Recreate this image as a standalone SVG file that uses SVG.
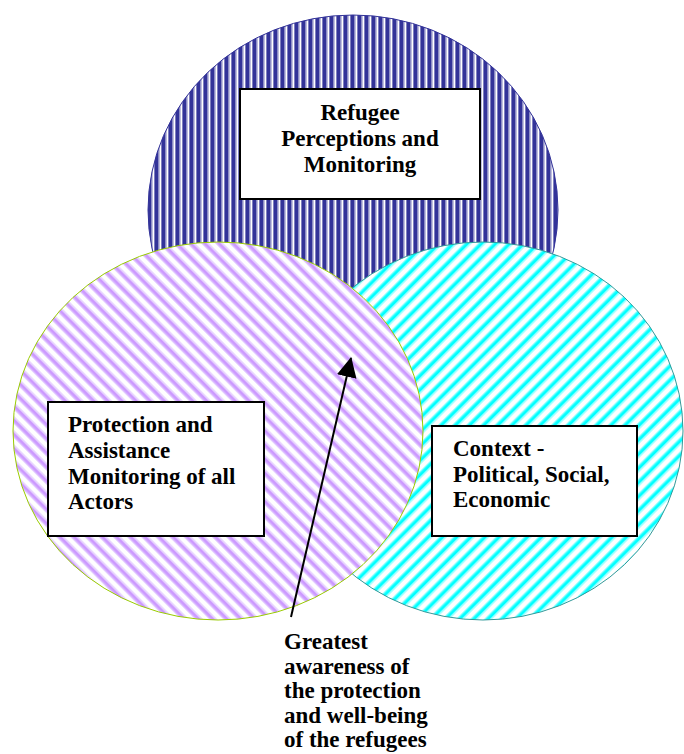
<svg xmlns="http://www.w3.org/2000/svg" width="684" height="754" viewBox="0 0 684 754">
<defs>
<pattern id="pNavy" patternUnits="userSpaceOnUse" width="7" height="7">
<rect width="7" height="7" fill="#ffffff"/>
<rect x="0" y="0" width="1" height="7" fill="#7f7fbf"/>
<rect x="1" y="0" width="3.5" height="7" fill="#333399"/>
<rect x="4.5" y="0" width="1" height="7" fill="#7f7fbf"/>
</pattern>
<pattern id="pPurple" patternUnits="userSpaceOnUse" width="10" height="10" patternTransform="rotate(-45)">
<rect width="10" height="10" fill="#ffffff"/>
<rect x="0" y="0" width="1.2" height="10" fill="#e3ccff"/>
<rect x="1.2" y="0" width="3.3" height="10" fill="#cc99ff"/>
<rect x="4.5" y="0" width="1.2" height="10" fill="#e3ccff"/>
</pattern>
<pattern id="pCyan" patternUnits="userSpaceOnUse" width="10" height="10" patternTransform="rotate(45)">
<rect width="10" height="10" fill="#ffffff"/>
<rect x="0" y="0" width="1.2" height="10" fill="#99ffff"/>
<rect x="1.2" y="0" width="3.3" height="10" fill="#00ffff"/>
<rect x="4.5" y="0" width="1.2" height="10" fill="#99ffff"/>
</pattern>
<marker id="arrow" viewBox="0 0 20 20" refX="19" refY="10" markerWidth="20" markerHeight="20" markerUnits="userSpaceOnUse" orient="auto">
<path d="M0,0 L20,10 L0,20 Z" fill="#000000"/>
</marker>
</defs>
<style>
.box{fill:#ffffff;stroke:#000000;stroke-width:2}
.lbl{font-family:"Liberation Serif","Times New Roman",serif;font-weight:bold;font-size:23px;fill:#000000}
.mid{text-anchor:middle}
</style>
<g id="circle-refugee">
<ellipse cx="353" cy="210" rx="205" ry="195" fill="url(#pNavy)" stroke="#333399" stroke-width="1"/>
</g>
<g id="circle-context">
<ellipse cx="483" cy="431" rx="200" ry="189" fill="url(#pCyan)" stroke="#339999" stroke-width="1"/>
</g>
<g id="circle-protection">
<ellipse cx="218" cy="431" rx="205" ry="189" fill="url(#pPurple)" stroke="#99cc00" stroke-width="1"/>
</g>
<g id="box-refugee">
<rect class="box" x="240" y="89" width="240" height="110"/>
<text class="lbl mid" x="360" y="120">Refugee</text>
<text class="lbl mid" x="360" y="146">Perceptions and</text>
<text class="lbl mid" x="360" y="172">Monitoring</text>
</g>
<g id="box-protection">
<rect class="box" x="48" y="402" width="216" height="134"/>
<text class="lbl" x="68" y="432">Protection and</text>
<text class="lbl" x="68" y="458">Assistance</text>
<text class="lbl" x="68" y="484">Monitoring of all</text>
<text class="lbl" x="68" y="509">Actors</text>
</g>
<g id="box-context">
<rect class="box" x="432" y="426" width="205" height="110"/>
<text class="lbl" x="453" y="456">Context -</text>
<text class="lbl" x="453" y="482">Political, Social,</text>
<text class="lbl" x="453" y="507">Economic</text>
</g>
<g id="connectors">
<line x1="291" y1="617" x2="351" y2="358" stroke="#000000" stroke-width="2" marker-end="url(#arrow)"/>
</g>
<g id="label-greatest">
<text class="lbl" x="284" y="649">Greatest</text>
<text class="lbl" x="284" y="674">awareness of</text>
<text class="lbl" x="284" y="698">the protection</text>
<text class="lbl" x="284" y="723">and well-being</text>
<text class="lbl" x="284" y="747">of the refugees</text>
</g>
</svg>
